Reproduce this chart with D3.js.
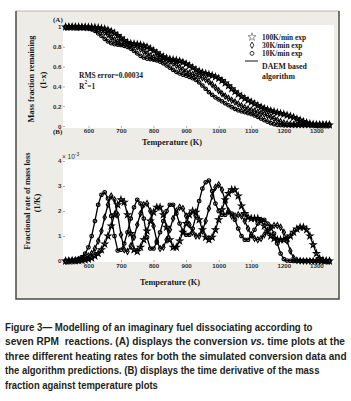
<!DOCTYPE html>
<html>
<head>
<meta charset="utf-8">
<script src="https://cdn.jsdelivr.net/npm/d3@7"></script>
<style>
    body { margin: 0; background: #fff; }
    #chart-area { width: 351px; height: 401px; }
    text { white-space: pre; }
</style>
</head>
<body>
<div id="chart-area"></div>
<script>
// temperature grid of the simulated runs (K)
const tempK = [530, 540, 550, 560, 570, 580, 590, 600,
    610, 620, 630, 640, 650, 660, 670, 680, 690,
    700, 710, 720, 730, 740, 750, 760, 770, 780, 790,
    800, 810, 820, 830, 840, 850, 860, 870, 880, 890,
    900, 910, 920, 930, 940, 950, 960, 970, 980, 990,
    1000, 1010, 1020, 1030, 1040, 1050, 1060, 1070, 1080, 1090,
    1100, 1110, 1120, 1130, 1140, 1150, 1160, 1170, 1180, 1190,
    1200, 1210, 1220, 1230, 1240, 1250, 1260, 1270, 1280, 1290,
    1300, 1310, 1320, 1330, 1340];

// (A) mass fraction remaining (1-x)
const mass10K = [1.000, 1.000, 0.999, 0.998, 0.997, 0.995, 0.992, 0.988,
    0.977, 0.961, 0.936, 0.910, 0.880, 0.855, 0.836, 0.826, 0.822,
    0.818, 0.810, 0.799, 0.781, 0.758, 0.733, 0.709, 0.692, 0.681, 0.676,
    0.671, 0.663, 0.651, 0.634, 0.613, 0.590, 0.567, 0.547, 0.531, 0.519,
    0.508, 0.497, 0.483, 0.465, 0.440, 0.409, 0.376, 0.343, 0.314, 0.290,
    0.269, 0.250, 0.230, 0.210, 0.190, 0.173, 0.159, 0.149, 0.140, 0.131,
    0.121, 0.108, 0.093, 0.076, 0.059, 0.044, 0.030, 0.019, 0.012, 0.009,
    0.008, 0.008, 0.008, 0.008, 0.008, 0.008, 0.008, 0.008, 0.008, 0.008,
    0.008, 0.008, 0.008, 0.008, 0.008];
const mass30K = [1.000, 1.000, 1.000, 0.999, 0.998, 0.997, 0.996, 0.995,
    0.991, 0.986, 0.978, 0.965, 0.946, 0.923, 0.895, 0.869, 0.850,
    0.838, 0.833, 0.830, 0.824, 0.813, 0.798, 0.778, 0.754, 0.729, 0.708,
    0.693, 0.685, 0.680, 0.674, 0.665, 0.652, 0.634, 0.613, 0.590, 0.568,
    0.548, 0.534, 0.521, 0.510, 0.500, 0.487, 0.470, 0.448, 0.420, 0.390,
    0.357, 0.327, 0.302, 0.281, 0.261, 0.242, 0.222, 0.203, 0.186, 0.171,
    0.160, 0.150, 0.140, 0.130, 0.119, 0.105, 0.090, 0.075, 0.059, 0.044,
    0.031, 0.022, 0.018, 0.016, 0.015, 0.015, 0.015, 0.015, 0.015, 0.015,
    0.015, 0.015, 0.015, 0.015, 0.015];
const mass100K = [1.000, 1.000, 1.000, 1.000, 1.000, 0.999, 0.999, 0.998,
    0.997, 0.995, 0.992, 0.986, 0.980, 0.970, 0.956, 0.936, 0.913,
    0.888, 0.864, 0.844, 0.833, 0.829, 0.825, 0.819, 0.810, 0.798, 0.781,
    0.761, 0.739, 0.716, 0.698, 0.684, 0.675, 0.669, 0.664, 0.656, 0.643,
    0.628, 0.609, 0.589, 0.568, 0.552, 0.538, 0.529, 0.520, 0.510, 0.497,
    0.480, 0.459, 0.434, 0.406, 0.376, 0.347, 0.321, 0.298, 0.278, 0.260,
    0.242, 0.225, 0.207, 0.191, 0.176, 0.164, 0.154, 0.144, 0.136, 0.127,
    0.119, 0.109, 0.099, 0.087, 0.073, 0.060, 0.045, 0.033, 0.023, 0.015,
    0.012, 0.011, 0.011, 0.011, 0.011];

// (B) fractional rate of mass loss, in units of 1e-3 1/K
const rate10K = [0.01, 0.02, 0.03, 0.05, 0.09, 0.16, 0.30, 0.55,
    1.00, 1.60, 2.25, 2.65, 2.75, 2.50, 1.80, 1.00, 0.42,
    0.45, 0.70, 1.15, 1.70, 2.15, 2.45, 2.30, 1.70, 0.95, 0.50,
    0.50, 0.75, 1.15, 1.60, 2.00, 2.25, 2.25, 1.90, 1.50, 1.20,
    1.05, 1.05, 1.30, 1.80, 2.40, 2.90, 3.15, 3.22, 2.80, 2.30,
    2.00, 1.85, 1.85, 1.95, 1.90, 1.65, 1.30, 1.00, 0.85, 0.85,
    1.00, 1.25, 1.50, 1.65, 1.65, 1.50, 1.35, 1.10, 0.70, 0.30,
    0.08, 0.02, 0.01, 0, 0, 0, 0, 0, 0, 0,
    0, 0, 0, 0, 0];
const rate30K = [0, 0.01, 0.02, 0.03, 0.05, 0.08, 0.13, 0.20,
    0.30, 0.50, 0.80, 1.20, 1.75, 2.25, 2.60, 2.45, 1.85,
    1.05, 0.45, 0.38, 0.60, 0.95, 1.45, 1.90, 2.25, 2.30, 2.00,
    1.40, 0.80, 0.50, 0.55, 0.85, 1.25, 1.70, 2.00, 2.15, 2.10,
    1.80, 1.45, 1.15, 1.00, 1.00, 1.20, 1.60, 2.10, 2.60, 2.95,
    3.05, 2.85, 2.40, 2.00, 1.80, 1.80, 1.85, 1.80, 1.60, 1.30,
    1.05, 0.90, 0.85, 0.90, 1.05, 1.20, 1.35, 1.42, 1.42, 1.35,
    1.15, 0.80, 0.40, 0.12, 0.03, 0.01, 0, 0, 0, 0,
    0, 0, 0, 0, 0];
const rate100K = [0, 0, 0.01, 0.01, 0.02, 0.03, 0.05, 0.08,
    0.12, 0.20, 0.30, 0.45, 0.68, 1.00, 1.40, 1.85, 2.25,
    2.45, 2.35, 1.85, 1.10, 0.45, 0.38, 0.55, 0.85, 1.20, 1.60,
    1.95, 2.15, 2.15, 1.85, 1.35, 0.85, 0.55, 0.55, 0.80, 1.15,
    1.50, 1.85, 2.00, 1.95, 1.65, 1.25, 0.95, 0.85, 0.95, 1.25,
    1.65, 2.05, 2.45, 2.70, 2.85, 2.85, 2.60, 2.20, 1.90, 1.75,
    1.70, 1.70, 1.70, 1.60, 1.40, 1.20, 1.00, 0.90, 0.85, 0.85,
    0.85, 0.90, 1.00, 1.15, 1.28, 1.35, 1.35, 1.25, 1.00, 0.65,
    0.30, 0.10, 0.03, 0.01, 0];

// ticks
const tempTicks = [600, 700, 800, 900, 1000, 1100, 1200, 1300];
const massTicks = [0, 0.2, 0.4, 0.6, 0.8, 1];
const rateTicks = [0, 1, 2, 3, 4];

const legendLabels = ["100K/min exp", "30K/min exp", "10K/min exp"];
const captionLines = [
    "Figure 3\u2014 Modelling of an imaginary fuel dissociating according to",
    "seven RPM  reactions. (A) displays the conversion |vs.| time plots at the",
    "three different heating rates for both the simulated conversion data and",
    "the algorithm predictions. (B) displays the time derivative of the mass",
    "fraction against temperature plots"
];

class TgaFigure {
    constructor(parentElement) {
        this.parentElement = parentElement;
        this.series = [
            { mass: mass10K, rate: rate10K, symbol: d3.symbolCircle, size: 10 },
            { mass: mass30K, rate: rate30K, symbol: d3.symbolDiamond, size: 10 },
            { mass: mass100K, rate: rate100K, symbol: d3.symbolStar, size: 11 }
        ];
        this.initVis();
    }

    initVis() {
        let vis = this;

        vis.svg = d3.select(`#${vis.parentElement}`).append("svg")
            .attr("width", 351)
            .attr("height", 401);

        // grey figure window
        vis.svg.append("rect")
            .attr("x", 16).attr("y", 11)
            .attr("width", 323).attr("height", 288)
            .attr("fill", "#edece6");
        vis.svg.append("line").attr("x1", 16).attr("x2", 339).attr("y1", 11).attr("y2", 11)
            .attr("stroke", "#b8b8b2");
        vis.svg.append("path")
            .attr("d", "M16,11V299H339V11")
            .attr("fill", "none")
            .attr("stroke", "#4a4a4a")
            .attr("stroke-width", 1.5);

        vis.x = d3.scaleLinear().domain([522, 1354]).range([63, 334]);

        vis.drawPanel({
            y: d3.scaleLinear().domain([-0.02, 1.02]).range([128, 25]),
            key: "mass", ticks: massTicks, xPad: 1
        });
        vis.drawPanel({
            y: d3.scaleLinear().domain([-0.04, 4.04]).range([262, 160]),
            key: "rate", ticks: rateTicks, xPad: 2
        });

        vis.drawLabels();
        vis.drawLegend();
        vis.drawCaption();
    }

    drawPanel(p) {
        let vis = this;
        let g = vis.svg.append("g");

        g.append("rect")
            .attr("x", vis.x.range()[0])
            .attr("y", p.y.range()[1])
            .attr("width", vis.x.range()[1] - vis.x.range()[0])
            .attr("height", p.y.range()[0] - p.y.range()[1])
            .attr("fill", "#fff");

        let xAxis = d3.axisBottom(vis.x).tickValues(tempTicks)
            .tickSizeInner(-2).tickSizeOuter(0).tickPadding(p.xPad)
            .tickFormat(d3.format("d"));
        let yAxis = d3.axisLeft(p.y).tickValues(p.ticks)
            .tickSizeInner(-2).tickSizeOuter(0).tickPadding(1.5)
            .tickFormat(d3.format("~g"));

        g.append("g")
            .attr("transform", `translate(0,${p.y.range()[0]})`)
            .call(xAxis);
        g.append("g")
            .attr("transform", `translate(${vis.x.range()[0]},0)`)
            .call(yAxis);

        g.selectAll(".domain").remove();
        g.selectAll(".tick line").attr("stroke", "#b0b0b0");
        g.selectAll(".tick text")
            .attr("fill", "#333")
            .style("font-family", "'Liberation Sans', Arial, sans-serif")
            .style("font-weight", "bold")
            .style("font-size", "6.2px");

        let line = d3.line()
            .x(d => vis.x(d.t))
            .y(d => p.y(d.v));

        vis.series.forEach(s => {
            let pts = tempK.map((t, i) => ({ t: t, v: s[p.key][i] }));

            g.append("g").selectAll("path")
                .data(pts)
                .enter().append("path")
                .attr("d", d3.symbol().type(s.symbol).size(s.size))
                .attr("transform", d => `translate(${vis.x(d.t)},${p.y(d.v)})`)
                .attr("fill", "none")
                .attr("stroke", "#000")
                .attr("stroke-width", 1.1);

            g.append("path")
                .datum(pts)
                .attr("d", line)
                .attr("fill", "none")
                .attr("stroke", "#000")
                .attr("stroke-width", 1.3);
        });
    }

    serifText(x, y, str, size) {
        return this.svg.append("text")
            .attr("x", x).attr("y", y)
            .attr("fill", "#1a1a1a")
            .style("font-family", "'Liberation Serif', 'Times New Roman', serif")
            .style("font-weight", "bold")
            .style("font-size", `${size}px`)
            .text(str);
    }

    drawLabels() {
        let vis = this;

        vis.serifText(53, 22, "(A)", 7);
        vis.serifText(53, 134, "(B)", 7);

        vis.serifText(172, 145, "Temperature (K)", 8.3).attr("text-anchor", "middle");
        vis.serifText(170, 285, "Temperature (K)", 8.3).attr("text-anchor", "middle");

        // rotated axis titles
        [[31, 79, "Mass fraction remaining"], [43, 80, "(1-x)"],
         [27, 201, "Fractional rate of mass loss"], [37, 203, "(1/K)"]].forEach(d => {
            vis.serifText(0, 0, d[2], 8.3)
                .attr("text-anchor", "middle")
                .attr("dy", "0.35em")
                .attr("transform", `translate(${d[0]},${d[1]}) rotate(-90)`);
        });

        vis.serifText(79, 78, "RMS error=0.00034", 7.5);
        let r2 = vis.serifText(79, 89, "R", 7.5);
        r2.append("tspan").attr("dy", -5.5).style("font-size", "5.5px").text("2");
        r2.append("tspan").attr("dy", 5.5).text("=1");

        // exponent of the rate axis
        let ex = vis.svg.append("text")
            .attr("x", 62).attr("y", 159)
            .attr("fill", "#333")
            .style("font-family", "'Liberation Sans', Arial, sans-serif")
            .style("font-size", "6.5px")
            .text("\u00d7 10");
        ex.append("tspan").attr("dy", -3.5).style("font-size", "5px").text("-3");
    }

    drawLegend() {
        let vis = this;
        let lg = vis.svg.append("g");
        let symbols = [d3.symbolStar, d3.symbolDiamond, d3.symbolCircle];
        let rowY = [37, 45.2, 53.4];

        legendLabels.forEach((label, i) => {
            lg.append("path")
                .attr("d", d3.symbol().type(symbols[i]).size(i === 0 ? 20 : 12))
                .attr("transform", `translate(252,${rowY[i]})`)
                .attr("fill", "none")
                .attr("stroke", i === 0 ? "#888" : "#222")
                .attr("stroke-width", 0.9);
            vis.serifText(262, rowY[i] + 2.7, label, 7.4);
        });

        lg.append("line")
            .attr("x1", 245).attr("x2", 258)
            .attr("y1", 61).attr("y2", 61)
            .attr("stroke", "#111").attr("stroke-width", 1);
        vis.serifText(262, 68.5, "DAEM based", 7.8);
        vis.serifText(262, 79, "algorithm", 7.8);
    }

    drawCaption() {
        let vis = this;
        let lineEnds = [313, 345, 347, 320, 158];
        let baseY = 330.5;

        captionLines.forEach((str, i) => {
            let t = vis.svg.append("text")
                .attr("fill", "#231f20")
                .style("font-family", "'Liberation Sans', Arial, sans-serif")
                .style("font-weight", "bold")
                .style("font-size", "10.8px");

            // '|' marks the italic part
            str.split("|").forEach((part, j) => {
                t.append("tspan")
                    .style("font-style", j % 2 === 1 ? "italic" : "normal")
                    .text(part);
            });

            // squeeze the line horizontally to the reference width
            let sx = (lineEnds[i] - 5) / t.node().getComputedTextLength();
            t.attr("transform", `translate(5,${baseY + i * 14.6}) scale(${sx},1)`);
        });
    }
}

new TgaFigure("chart-area");
</script>
</body>
</html>
